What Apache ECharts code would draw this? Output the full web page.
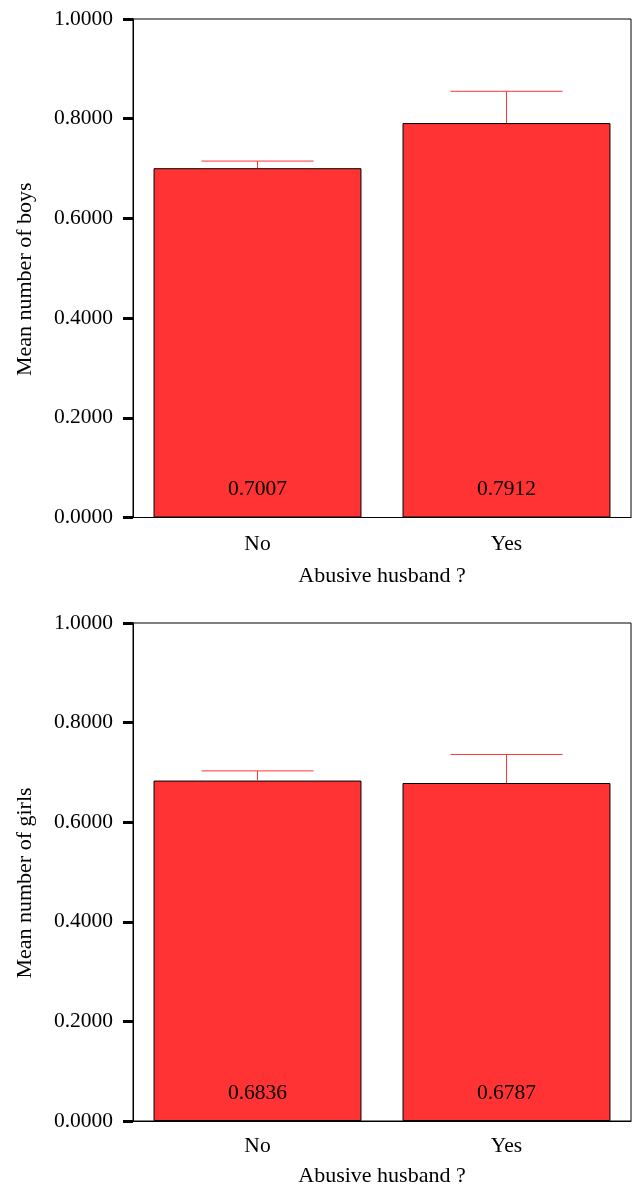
<!DOCTYPE html>
<html><head><meta charset="utf-8">
<script src="https://cdn.jsdelivr.net/npm/echarts@6/dist/echarts.min.js"></script>
<style>html,body{margin:0;padding:0;background:#fff}#c{width:633px;height:1185px}</style>
</head><body><div id="c"></div>
<script>
const categories = ['No', 'Yes'];
const boysMean = [0.7007, 0.7912];
const boysUpper = [0.715, 0.855];
const girlsMean = [0.6836, 0.6787];
const girlsUpper = [0.703, 0.736];
const yMin = 0, yMax = 1, yInterval = 0.2;
const xName = 'Abusive husband ?';
const yNames = ['Mean number of boys', 'Mean number of girls'];

const FONT = 'Liberation Serif';
const RED = '#ff3333';

const chart = echarts.init(document.getElementById('c'), null, {renderer: 'canvas'});

function xAxisCfg(i, labelMargin, nameGap) {
  return {
    type: 'category', gridIndex: i, data: categories,
    axisLine: {lineStyle: {color: '#000', width: 1}},
    axisTick: {alignWithLabel: true, length: 8, lineStyle: {color: '#000', width: 3}},
    axisLabel: {color: '#000', fontFamily: FONT, fontSize: 21.5, margin: labelMargin},
    name: xName, nameLocation: 'middle', nameGap: nameGap,
    nameTextStyle: {color: '#000', fontFamily: FONT, fontSize: 22}
  };
}
function yAxisCfg(i) {
  return {
    type: 'value', gridIndex: i, min: yMin, max: yMax, interval: yInterval,
    axisLine: {show: true, lineStyle: {color: '#000', width: 1}},
    axisTick: {show: true, length: 10, lineStyle: {color: '#000', width: 3}},
    splitLine: {show: false},
    axisLabel: {color: '#000', fontFamily: FONT, fontSize: 21.5, margin: 20,
      formatter: v => v.toFixed(4)},
    name: yNames[i], nameLocation: 'middle', nameGap: 97, nameRotate: 90,
    nameTextStyle: {color: '#000', fontFamily: FONT, fontSize: 22, padding: [0, 22, 0, 0]}
  };
}
function barSeries(i, data) {
  return {
    type: 'bar', xAxisIndex: i, yAxisIndex: i, data: data,
    barCategoryGap: '16.5%',
    itemStyle: {color: RED, borderColor: '#000', borderWidth: 1},
    label: {show: true, position: 'insideBottom', distance: 17, color: '#000',
      fontFamily: FONT, fontSize: 21.5, formatter: p => p.value.toFixed(4)},
    silent: true, animation: false
  };
}
function errSeries(i, mean, upper) {
  return {
    type: 'custom', xAxisIndex: i, yAxisIndex: i,
    data: categories.map((c, k) => [k, mean[k], upper[k]]),
    renderItem: function (params, api) {
      const x = api.value(0);
      const p0 = api.coord([x, api.value(1)]);
      const p1 = api.coord([x, api.value(2)]);
      const band = api.size([1, 0])[0];
      const hw = band * 0.225;
      const style = {stroke: RED, lineWidth: 1};
      return {type: 'group', children: [
        {type: 'line', shape: {x1: p0[0], y1: p0[1], x2: p1[0], y2: p1[1]}, style: style},
        {type: 'line', shape: {x1: p1[0] - hw, y1: p1[1], x2: p1[0] + hw, y2: p1[1]}, style: style}
      ]};
    },
    z: 5, silent: true, animation: false
  };
}

chart.setOption({
  animation: false,
  grid: [
    {left: 133, top: 19, width: 498, height: 498.5, outerBoundsMode: 'none', containLabel: false,
     show: true, borderColor: '#000', borderWidth: 1, backgroundColor: 'transparent'},
    {left: 133, top: 623, width: 498, height: 498, outerBoundsMode: 'none', containLabel: false,
     show: true, borderColor: '#000', borderWidth: 1, backgroundColor: 'transparent'}
  ],
  xAxis: [xAxisCfg(0, 16, 48), xAxisCfg(1, 14, 44)],
  yAxis: [yAxisCfg(0), yAxisCfg(1)],
  series: [
    barSeries(0, boysMean), errSeries(0, boysMean, boysUpper),
    barSeries(1, girlsMean), errSeries(1, girlsMean, girlsUpper)
  ]
});
</script></body></html>
